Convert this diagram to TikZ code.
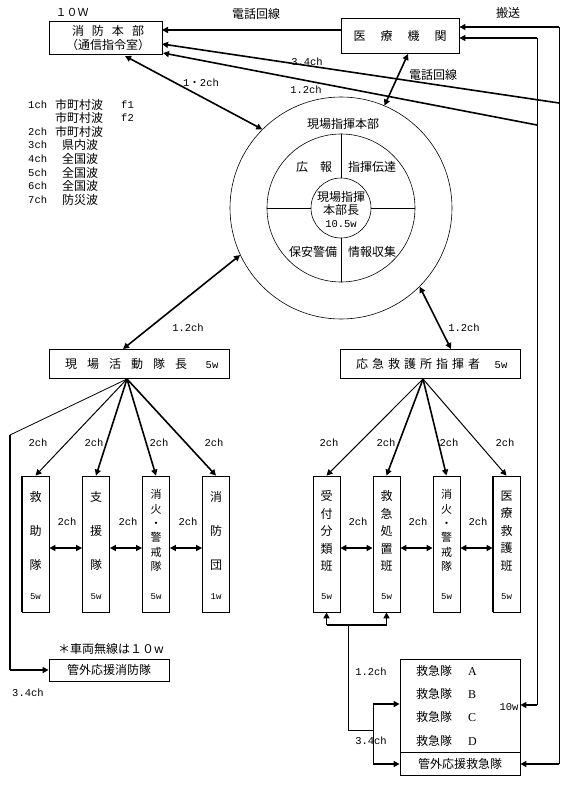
\documentclass[tikz,border=0pt]{standalone}
\usepackage{fontspec}
\setmainfont{Noto Sans CJK JP}
\newfontfamily\mono{Liberation Mono}
\newfontfamily\serifA{Liberation Serif}
\usetikzlibrary{arrows.meta,calc}
\begin{document}
\begin{tikzpicture}[x=1pt,y=-1pt,
 box/.style={draw,line width=0.8pt,inner sep=0pt},
 jp/.style={inner sep=0pt,font=\fontsize{12}{14}\selectfont},
 chl/.style={inner sep=0pt,font=\mono\fontsize{10.5}{12}\selectfont},
 arr/.style={line width=1.6pt,-{Triangle[length=6pt,width=6pt]}},
 darr/.style={line width=1.6pt,{Triangle[length=6pt,width=6pt]}-{Triangle[length=6pt,width=6pt]}},
 marr/.style={line width=1pt,-{Triangle[length=6pt,width=6pt]}},
 thinl/.style={line width=0.8pt},
 thickl/.style={line width=1.6pt},
 vtbox/.style={box,minimum width=27pt,minimum height=136pt},
 vt3/.style={inner sep=0pt,align=center,font=\fontsize{12}{34}\selectfont},
 vt5/.style={inner sep=0pt,align=center,font=\fontsize{12}{17.5}\selectfont},
 vt6/.style={inner sep=0pt,align=center,font=\fontsize{11}{14.4}\selectfont},
 wlab/.style={inner sep=0pt,font=\mono\fontsize{9}{10}\selectfont},
]
\useasboundingbox (0,0) rectangle (572,789);

% ---------- top ----------
\node[box,minimum width=113pt,minimum height=33pt] (hq) at (105.5,37.5) {};
\node[jp] (hqt1) at (108,31) {消\hspace{8pt}防\hspace{8pt}本\hspace{8pt}部};
\node[jp] (hqt2) at (108,45) {（通信指令室）};
\node[jp,font=\fontsize{11}{12}\selectfont] (tenw) at (72,12) {１０Ｗ};
\node[box,minimum width=118pt,minimum height=35pt,font=\fontsize{12}{14}\selectfont] (med) at (400,35.5) {医\hspace{15pt}療\hspace{15pt}機\hspace{15pt}関};
\node[jp] (tel1) at (256,14) {電話回線};
\node[jp] (hanso) at (508,13) {搬送};
\node[jp] (tel2) at (433,75) {電話回線};

\coordinate (m1) at (341,30);
\coordinate (h1) at (162,30);
\coordinate (h2) at (162,44);
\coordinate (h3) at (163,53);
\coordinate (v1top) at (559,27);
\coordinate (v2top) at (537,38);
\coordinate (j1) at (559,103);
\coordinate (j2) at (537,125);
\coordinate (v1bot) at (559,764);
\coordinate (v2bot) at (537,705);

\draw[arr] (m1) -- (h1);
\draw[arr] (j1) -- (h2);
\draw[arr] (j2) -- (h3);
\draw[arr] (v1top) -- (v1top -| med.east);
\draw[arr] (v2top) -- (v2top -| med.east);
\draw[thinl] (v1top) -- (v1bot);
\draw[thinl] (v2top) -- (v2bot);

\node[chl] (c34a) at (307,62) {3.4ch};
\node[chl] (c12a) at (306,90) {1.2ch};
\node[chl] (c12b) at (201,83) {1{\rmfamily\fontsize{10.5}{12}\selectfont ・}2ch};

% ---------- legend ----------
\node[chl,anchor=west] (l1) at (28,105) {1ch};
\node[jp,anchor=west] (lj1) at (55,105) {市町村波};
\node[chl,anchor=west] (lf1) at (121,105) {f1};
\node[jp,anchor=west] (lj2) at (55,118) {市町村波};
\node[chl,anchor=west] (lf2) at (121,118) {f2};
\node[chl,anchor=west] (l2) at (28,132) {2ch};
\node[jp,anchor=west] (lj3) at (55,132) {市町村波};
\node[chl,anchor=west] (l3) at (28,145) {3ch};
\node[jp,anchor=west] (lj4) at (62,145) {県内波};
\node[chl,anchor=west] (l4) at (28,159) {4ch};
\node[jp,anchor=west] (lj5) at (62,159) {全国波};
\node[chl,anchor=west] (l5) at (28,173) {5ch};
\node[jp,anchor=west] (lj6) at (62,173) {全国波};
\node[chl,anchor=west] (l6) at (28,186) {6ch};
\node[jp,anchor=west] (lj7) at (62,186) {全国波};
\node[chl,anchor=west] (l7) at (28,200) {7ch};
\node[jp,anchor=west] (lj8) at (62,200) {防災波};

% ---------- circle ----------
\node[circle,draw,line width=0.6pt,minimum size=222pt,inner sep=0pt] (outer) at (341,208) {};
\node[circle,draw,line width=0.6pt,minimum size=148pt,inner sep=0pt] (inner) at (341,208) {};
\node[circle,draw,line width=0.6pt,minimum size=60pt,inner sep=0pt] (small) at (341,208) {};
\draw[thinl] (inner.north) -- (small.north);
\draw[thinl] (inner.south) -- (small.south);
\draw[thinl] (inner.west) -- (small.west);
\draw[thinl] (inner.east) -- (small.east);
\node[jp] (gt) at (343,124) {現場指揮本部};
\node[jp] (kouhou) at (314,167) {広\hspace{12pt}報};
\node[jp] (shiki) at (372,167) {指揮伝達};
\node[jp] (hoan) at (313,252) {保安警備};
\node[jp] (jouhou) at (372,252) {情報収集};
\node[inner sep=0pt,align=center,font=\fontsize{12}{13}\selectfont] (chief) at (341,210) {現場指揮\\本部長\\{\mono\fontsize{10.5}{13}\selectfont 10.5w}};

\coordinate (hqB) at (125,56);
\coordinate (medB) at (408,54);
\draw[darr] (hqB) -- (outer.135);
\draw[darr] (medB) -- (outer.67);

% ---------- command boxes ----------
\node[box,minimum width=180pt,minimum height=29pt] (fcmd) at (139,363.5) {};
\node[jp,anchor=west] (fcmdt) at (65,364) {現\hspace{10pt}場\hspace{10pt}活\hspace{10pt}動\hspace{10pt}隊\hspace{10pt}長};
\node[chl] (fcmdw) at (212,365) {5w};
\node[box,minimum width=180pt,minimum height=29pt] (ecmd) at (430,363.5) {};
\node[jp,anchor=west] (ecmdt) at (356,364) {応\hspace{4pt}急\hspace{4pt}救\hspace{4pt}護\hspace{4pt}所\hspace{4pt}指\hspace{4pt}揮\hspace{4pt}者};
\node[chl] (ecmdw) at (501,365) {5w};

\coordinate (fcT) at (123,349);
\coordinate (ecT) at (451,349);
\draw[darr] (outer.205) -- (fcT);
\draw[darr] (outer.315) -- (ecT);
\node[chl] (c12c) at (188,328) {1.2ch};
\node[chl] (c12d) at (464,328) {1.2ch};

% ---------- left vertical boxes ----------
\node[vtbox] (b1) at (35.5,544) {};
\node[vtbox] (b2) at (96,544) {};
\node[vtbox] (b3) at (156,544) {};
\node[vtbox] (b4) at (216,544) {};
\draw[line width=1.6pt] (b1.north west) -- (b1.south west);
\node[vt3] (b1t) at (35.5,531) {救\\助\\隊};
\node[vt3] (b2t) at (96,531) {支\\援\\隊};
\node[vt6] (b3t) at (156,530.5) {消\\火\\・\\警\\戒\\隊};
\node[vt3] (b4t) at (216,531) {消\\防\\団};
\node[wlab] (b1w) at (35.5,597) {5w};
\node[wlab] (b2w) at (96,597) {5w};
\node[wlab] (b3w) at (156,597) {5w};
\node[wlab] (b4w) at (216,597) {1w};

\coordinate (fcB) at (127,379);
\draw[marr] (fcB) -- (b1.north);
\draw[arr] (fcB) -- (b2.north);
\draw[arr] (fcB) -- (b3.north);
\draw[arr] (fcB) -- (b4.north);
\node[chl] (f1) at (38,443) {2ch};
\node[chl] (f2) at (94,443) {2ch};
\node[chl] (f3) at (159,443) {2ch};
\node[chl] (f4) at (214,443) {2ch};

\draw[darr] ([yshift=-4pt]b1.east) -- ([yshift=-4pt]b2.west);
\draw[darr] ([yshift=-4pt]b2.east) -- ([yshift=-4pt]b3.west);
\draw[darr] ([yshift=-4pt]b3.east) -- ([yshift=-4pt]b4.west);
\node[chl] (g1) at (67,522) {2ch};
\node[chl] (g2) at (128,522) {2ch};
\node[chl] (g3) at (188,522) {2ch};

% ---------- left bottom ----------
\node[box,minimum width=120pt,minimum height=22pt,font=\fontsize{12}{14}\selectfont] (gai) at (109,670) {管外応援消防隊};
\node[jp] (note) at (111,649) {＊車両無線は１０w};
\node[chl] (c34b) at (28,693) {3.4ch};
\coordinate (bend1) at (10,435);
\coordinate (bend2) at (10,670);
\draw[thinl] (fcB) -- (bend1);
\draw[thickl] (bend1) -- (bend2);
\draw[arr] (bend2) -- (gai.west);

% ---------- right vertical boxes ----------
\node[vtbox] (r1) at (326.5,544) {};
\node[vtbox] (r2) at (386.5,544) {};
\node[vtbox] (r3) at (446.5,544) {};
\node[vtbox] (r4) at (506.5,544) {};
\draw[line width=1.6pt] (r4.north west) -- (r4.south west);
\node[vt5] (r1t) at (326.5,531) {受\\付\\分\\類\\班};
\node[vt5] (r2t) at (386.5,531) {救\\急\\処\\置\\班};
\node[vt6] (r3t) at (446.5,530.5) {消\\火\\・\\警\\戒\\隊};
\node[vt5] (r4t) at (506.5,531) {医\\療\\救\\護\\班};
\node[wlab] (r1w) at (326.5,597) {5w};
\node[wlab] (r2w) at (386.5,597) {5w};
\node[wlab] (r3w) at (446.5,597) {5w};
\node[wlab] (r4w) at (506.5,597) {5w};

\coordinate (ecB) at (423,379);
\draw[marr] (ecB) -- (r1.north);
\draw[arr] (ecB) -- (r2.north);
\draw[arr] (ecB) -- (r3.north);
\draw[marr] (ecB) -- (r4.north);
\node[chl] (e1) at (329,443) {2ch};
\node[chl] (e2) at (386,443) {2ch};
\node[chl] (e3) at (449,443) {2ch};
\node[chl] (e4) at (505,443) {2ch};

\draw[darr] ([yshift=-4pt]r1.east) -- ([yshift=-4pt]r2.west);
\draw[darr] ([yshift=-4pt]r2.east) -- ([yshift=-4pt]r3.west);
\draw[darr] ([yshift=-4pt]r3.east) -- ([yshift=-4pt]r4.west);
\node[chl] (k1) at (358,522) {2ch};
\node[chl] (k2) at (418,522) {2ch};
\node[chl] (k3) at (478,522) {2ch};

% ---------- right bottom ----------
\node[box,minimum width=120pt,minimum height=93pt] (kyu) at (460,705.5) {};
\node[box,minimum width=120pt,minimum height=23pt,font=\fontsize{12}{14}\selectfont] (kgai) at (460,763.5) {管外応援救急隊};
\node[jp,anchor=west] (ka) at (416,671) {救急隊\hspace{16pt}{\serifA A}};
\node[jp,anchor=west] (kb) at (416,694) {救急隊\hspace{16pt}{\serifA B}};
\node[jp,anchor=west] (kc) at (416,717) {救急隊\hspace{16pt}{\serifA C}};
\node[jp,anchor=west] (kd) at (416,741) {救急隊\hspace{16pt}{\serifA D}};
\node[chl] (tenw2) at (509,707) {10w};

\draw[arr] (v1bot) -- (v1bot -| kgai.east);
\draw[arr] (v2bot) -- (v2bot -| kyu.east);

\coordinate (u1) at (326.5,625);
\coordinate (u2) at (386.5,625);
\coordinate (um) at (348,625);
\coordinate (ud) at (348,730);
\coordinate (uj) at (373,730);
\coordinate (ua) at (373,704);
\coordinate (ub) at (373,764);
\draw[thickl] (u1) -- (u2);
\draw[arr] (u1) -- (r1.south);
\draw[arr] (u2) -- (r2.south);
\draw[thinl] (um) -- (ud) -- (uj);
\draw[thinl] (ua) -- (ub);
\draw[arr] (ua) -- (ua -| kyu.west);
\draw[arr] (ub) -- (ub -| kgai.west);
\node[chl] (c12e) at (371,672) {1.2ch};
\node[chl] (c34c) at (371,741) {3.4ch};
\end{tikzpicture}
\end{document}
